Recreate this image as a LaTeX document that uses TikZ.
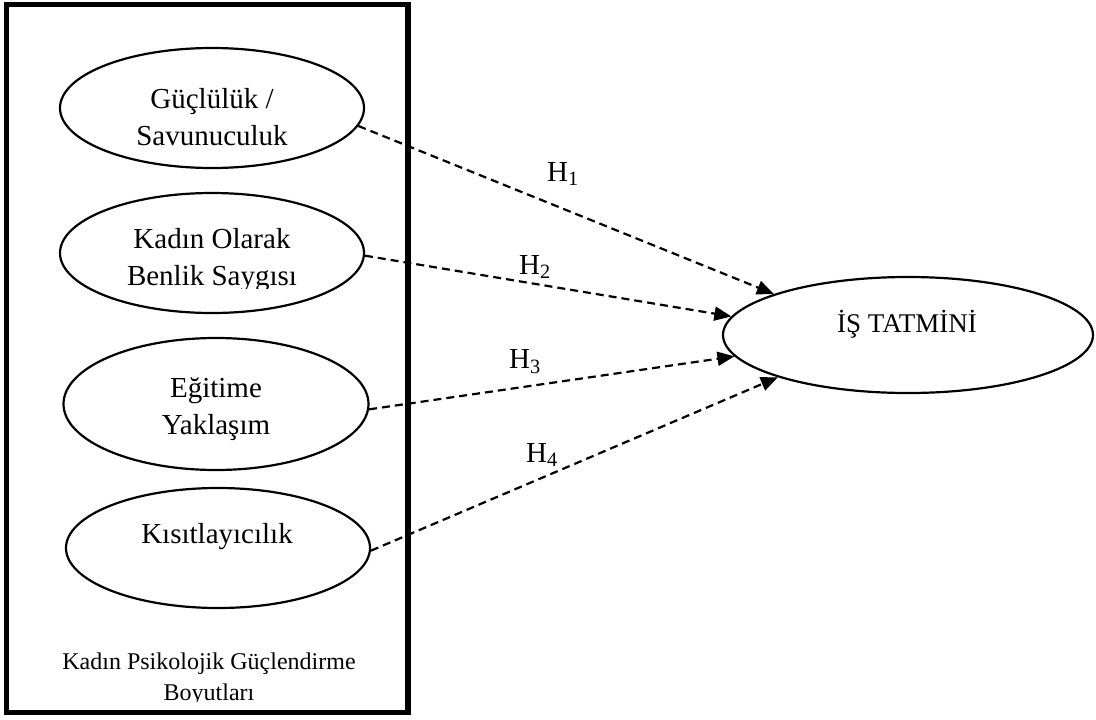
\documentclass[tikz,border=0pt]{standalone}
\usepackage{fontspec}
\setmainfont{Liberation Serif}
\usetikzlibrary{shapes.geometric,arrows.meta}
\tikzset{
  oval/.style={draw, ellipse, line width=2.2pt, inner sep=0pt},
  lbl/.style={align=center, inner sep=0pt, font=\fontsize{29}{37}\selectfont},
  smalllbl/.style={align=center, inner sep=0pt, font=\fontsize{24}{31}\selectfont},
  hyp/.style={draw, dash pattern=on 8pt off 5pt, line width=2.2pt, -{Triangle[length=17pt,width=14pt]}},
  container/.style={draw, line width=5.5pt, inner sep=0pt}
}
\begin{document}
\begin{tikzpicture}[x=1pt,y=-1pt]
\useasboundingbox (0,0) rectangle (1096,720);
% container box
\node[container, minimum width=401.5pt, minimum height=708pt] (box) at (207.25,358.5) {};
% ellipses
\node[oval, minimum width=304pt, minimum height=120pt] (e1) at (212,108) {};
\node[oval, minimum width=304pt, minimum height=120pt] (e2) at (212,253) {};
\node[oval, minimum width=305pt, minimum height=132pt] (e3) at (216,404) {};
\node[oval, minimum width=304pt, minimum height=120pt] (e4) at (218,548) {};
\node[oval, minimum width=370pt, minimum height=116pt] (is) at (908,335) {};
% texts
\node[lbl] (t1) at (212,117) {Güçlülük /\\Savunuculuk};
\begin{scope}
\clip (0,0) rectangle (1096,288);
\node[lbl] (t2) at (212,260) {Kadın Olarak\\Benlik Saygısı};
\end{scope}
\node[lbl] (t3) at (216,409) {Eğitime\\Yaklaşım};
\node[lbl] (t4) at (217,537) {Kısıtlayıcılık};
\node[lbl, font=\fontsize{27}{33}\selectfont] (tis) at (907,324) {İŞ TATMİNİ};
\begin{scope}
\clip (0,0) rectangle (1096,701);
\node[smalllbl] (tb) at (209,679) {Kadın Psikolojik Güçlendirme\\Boyutları};
\end{scope}
% hypotheses
\draw[hyp] (e1.-7) -- (is.163);
\draw[hyp] (e2.-1.5) -- (is.174);
\draw[hyp] (e3.-2.6) -- (is.187.5);
\draw[hyp] (e4.-1) -- (is.198);
\node[lbl] (h1) at (563,174) {H\textsubscript{1}};
\node[lbl] (h2) at (535,267) {H\textsubscript{2}};
\node[lbl] (h3) at (525,362) {H\textsubscript{3}};
\node[lbl] (h4) at (542,455) {H\textsubscript{4}};
\end{tikzpicture}
\end{document}
